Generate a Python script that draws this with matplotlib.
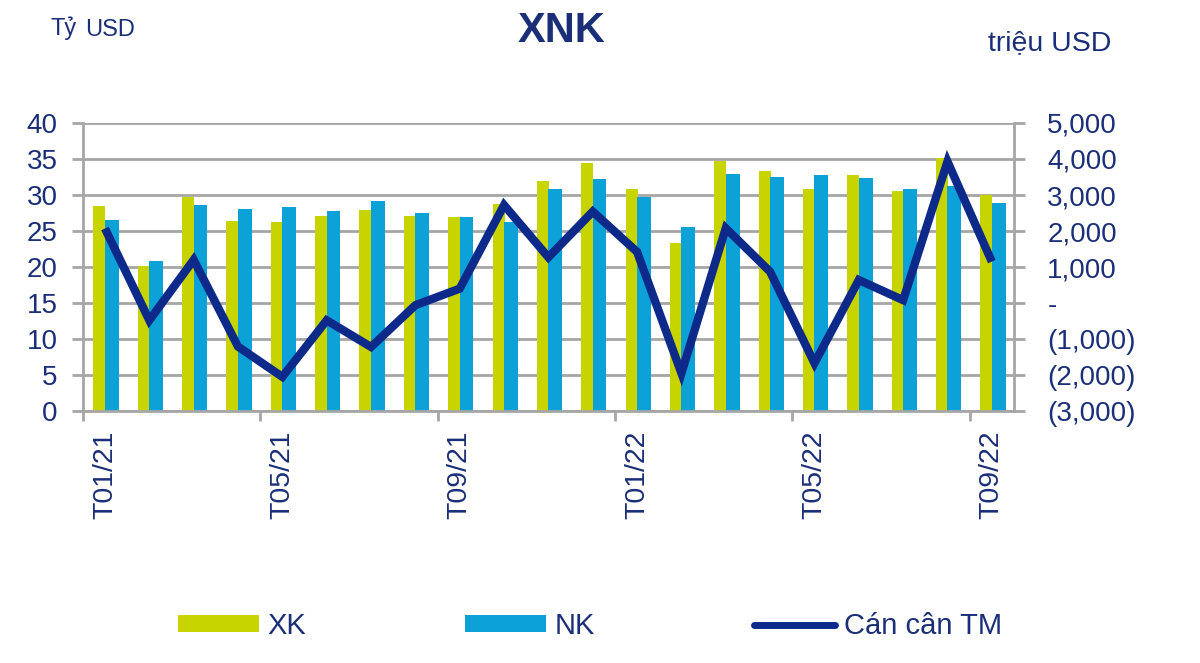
import matplotlib.pyplot as plt
from matplotlib.ticker import FuncFormatter, FixedLocator
import numpy as np

plt.rcParams['font.family'] = ['Liberation Sans', 'DejaVu Sans']

MONTHS = ["T01/21", "T02/21", "T03/21", "T04/21", "T05/21", "T06/21", "T07/21",
          "T08/21", "T09/21", "T10/21", "T11/21", "T12/21", "T01/22", "T02/22",
          "T03/22", "T04/22", "T05/22", "T06/22", "T07/22", "T08/22", "T09/22"]
XK = [28.5, 20.2, 29.7, 26.4, 26.2, 27.1, 27.9, 27.1, 27.0, 28.8, 31.9,
      34.5, 30.8, 23.4, 34.7, 33.3, 30.9, 32.8, 30.6, 35.1, 30.0]
NK = [26.5, 20.8, 28.6, 28.0, 28.4, 27.8, 29.2, 27.5, 26.9, 26.3, 30.8,
      32.2, 29.7, 25.6, 32.9, 32.5, 32.8, 32.4, 30.8, 31.2, 28.9]
CAN_CAN = [2070, -480, 1200, -1210, -2050, -480, -1220, -60, 400, 2720, 1270,
           2540, 1420, -1950, 2080, 870, -1670, 640, 80, 3930, 1150]

C_XK = '#c8d400'
C_NK = '#0ca2d8'
C_LINE = '#0d2a8a'
C_TEXT = '#1b2f78'
C_GRID = '#a6a6a6'

fig = plt.figure(figsize=(12, 6.63), dpi=100)
ax = fig.add_axes([0.069, 0.380, 0.776, 0.4345])
x = np.arange(len(MONTHS))

ax.bar(x - 0.26, XK, width=0.27, align='edge', color=C_XK, zorder=2, label='XK')
ax.bar(x, NK, width=0.31, align='edge', color=C_NK, zorder=2, label='NK')
ax.set_xlim(-0.5, len(MONTHS) - 0.5)
ax.set_ylim(0, 40)
ax.set_yticks(range(0, 41, 5))
ax.grid(axis='y', color=C_GRID, linewidth=2, zorder=0)
ax.set_axisbelow(True)

# tick marks between categories, labels every 4 months
ax.set_xticks(x[::4])
ax.set_xticklabels(MONTHS[::4], rotation=90)
ax.xaxis.set_minor_locator(FixedLocator(np.arange(-0.5, len(MONTHS), 4)))
ax.tick_params(axis='x', which='major', length=0, pad=14, labelsize=20.5, labelcolor=C_TEXT)
ax.tick_params(axis='x', which='minor', length=7, width=2, color=C_GRID)
ax.tick_params(axis='y', length=8, width=2, color=C_GRID, labelsize=20,
               labelcolor=C_TEXT, pad=10)

for side in ['left', 'bottom']:
    ax.spines[side].set_color(C_GRID)
    ax.spines[side].set_linewidth(2)
ax.spines['top'].set_visible(False)
ax.spines['right'].set_visible(False)

ax2 = ax.twinx()
ax2.plot(x, CAN_CAN, color=C_LINE, linewidth=6, solid_joinstyle='miter',
         solid_capstyle='butt', zorder=3, label='Cán cân TM')
ax2.set_ylim(-3000, 5000)
ax2.set_yticks(range(-3000, 5001, 1000))


def fmt(v, pos):
    if v == 0:
        return '-'
    if v < 0:
        return '({:,.0f})'.format(-v)
    return '{:,.0f}'.format(v)


ax2.yaxis.set_major_formatter(FuncFormatter(fmt))
ax2.tick_params(axis='y', length=8, width=2, color=C_GRID, labelsize=20,
                labelcolor=C_TEXT, pad=16)
ax2.spines['right'].set_color(C_GRID)
ax2.spines['right'].set_linewidth(2)
for side in ['left', 'top', 'bottom']:
    ax2.spines[side].set_visible(False)

fig.text(0.468, 0.937, 'XNK', ha='center', va='baseline', fontsize=30,
         fontweight='bold', color=C_TEXT)
fig.text(0.042, 0.947, 'Tỷ', ha='left', va='baseline', fontsize=17, color=C_TEXT)
fig.text(0.071, 0.945, 'USD', ha='left', va='baseline', fontsize=17, color=C_TEXT)
fig.text(0.823, 0.925, 'triệu USD', ha='left', va='baseline', fontsize=20.5, color=C_TEXT)

h1, l1 = ax.get_legend_handles_labels()
h2, l2 = ax2.get_legend_handles_labels()
leg = fig.legend(h1 + h2, l1 + l2, loc='center left', ncol=3, frameon=False,
                 bbox_to_anchor=(0.148, 0.056), fontsize=21, handlelength=2.78,
                 handletextpad=0.3, columnspacing=5.45, handleheight=0.48,
                 borderpad=0, borderaxespad=0)
for t in leg.get_texts():
    t.set_color(C_TEXT)
leg.get_lines()[0].set_linewidth(5)
leg.get_lines()[0].set_solid_capstyle('round')

fig.savefig('out.png', dpi=100)
